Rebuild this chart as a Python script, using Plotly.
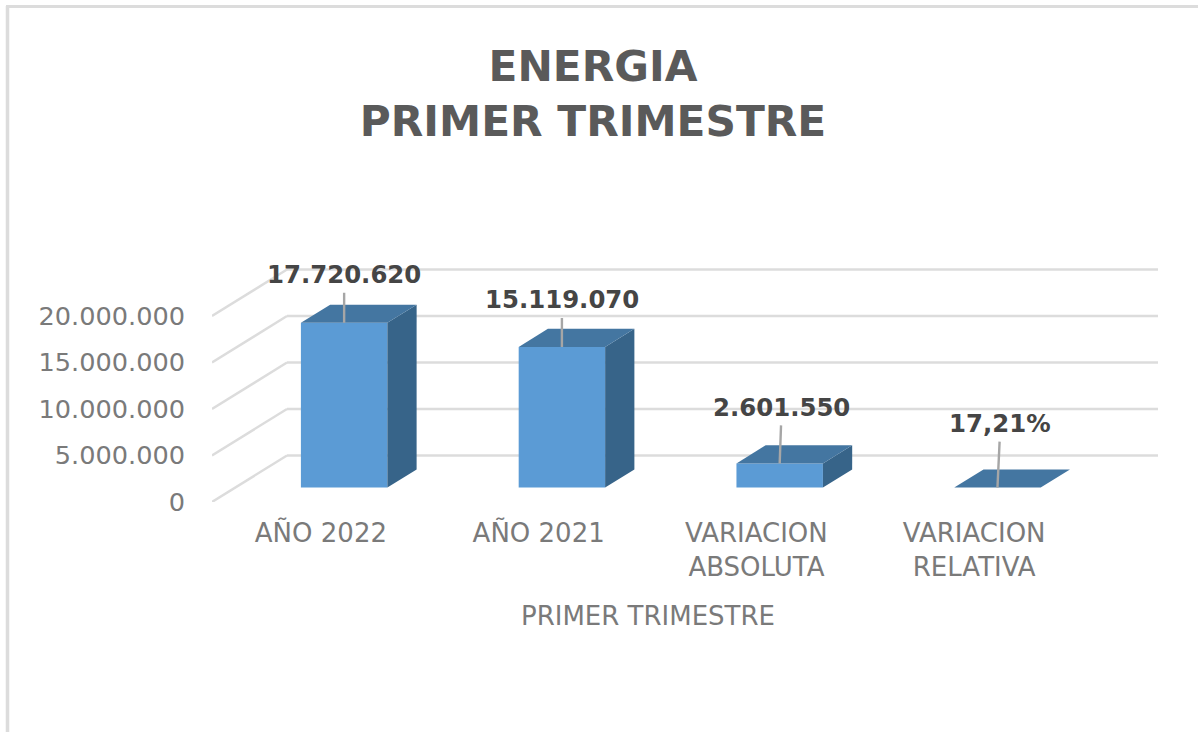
import plotly.graph_objects as go

# ---- data ----
categories = ["AÑO 2022", "AÑO 2021", "VARIACION<br>ABSOLUTA", "VARIACION<br>RELATIVA"]
values = [17720620, 15119070, 2601550, 0.1721]
value_labels = ["17.720.620", "15.119.070", "2.601.550", "17,21%"]
y_ticks = [0, 5000000, 10000000, 15000000, 20000000]
y_tick_labels = ["0", "5.000.000", "10.000.000", "15.000.000", "20.000.000"]
title_lines = ["ENERGIA", "PRIMER TRIMESTRE"]
x_title = "PRIMER TRIMESTRE"

# ---- oblique projection: depth 0 (front) .. 1 (back wall) ----
DEPTH_X = 0.3444     # category bands per unit depth
DEPTH_Y = 5000000    # value units per unit depth
BAR_D0, BAR_D1 = 0.31, 0.70
BAR_W = 0.397
X_MAX = 4.344
Y_MAX = 26130000
L, R, T, B = 212, 40, 259, 230
W, H = 1198, 732

# label offsets in pixels relative to bar's top centre (leader line)
label_offsets = [(0, -48), (0, -47), (2, -56), (3, -64)]

GRID = "#dcdcdc"
FRONT = "#5b9bd5"
SIDE = "#376489"
TOP = "#4476a1"
AXTXT = "#7a7a7a"
FONT = "DejaVu Sans"

centers = [i + 0.5 for i in range(len(categories))]


def proj(x, v, d):
    return x + d * DEPTH_X, v + d * DEPTH_Y


fig = go.Figure()

# front faces
fig.add_trace(go.Bar(
    x=[c + BAR_D0 * DEPTH_X for c in centers],
    y=values,
    base=[BAR_D0 * DEPTH_Y] * len(values),
    width=BAR_W,
    marker=dict(color=FRONT, line=dict(width=0)),
    hoverinfo="skip",
    showlegend=False,
))

# side and top faces
for c, v in zip(centers, values):
    xl, xr = c - BAR_W / 2, c + BAR_W / 2
    if v > 1:
        pts = [proj(xr, 0, BAR_D0), proj(xr, 0, BAR_D1), proj(xr, v, BAR_D1), proj(xr, v, BAR_D0)]
        fig.add_trace(go.Scatter(
            x=[p[0] for p in pts], y=[p[1] for p in pts], mode="lines", fill="toself",
            fillcolor=SIDE, line=dict(width=0), hoverinfo="skip", showlegend=False))
    pts = [proj(xl, v, BAR_D0), proj(xr, v, BAR_D0), proj(xr, v, BAR_D1), proj(xl, v, BAR_D1)]
    fig.add_trace(go.Scatter(
        x=[p[0] for p in pts], y=[p[1] for p in pts], mode="lines", fill="toself",
        fillcolor=TOP, line=dict(width=0), hoverinfo="skip", showlegend=False))

# grid: side wall diagonal and back wall horizontal
shapes = []
for t in y_ticks:
    x0, y0 = proj(0, t, 0)
    x1, y1 = proj(0, t, 1)
    shapes.append(dict(type="line", xref="x", yref="y", x0=x0, y0=y0, x1=x1, y1=y1,
                       layer="below", line=dict(color=GRID, width=2.4)))
    shapes.append(dict(type="line", xref="x", yref="y", x0=x1, y0=y1, x1=X_MAX, y1=y1,
                       layer="below", line=dict(color=GRID, width=2.4)))

# outer frame (top and left edges only)
plot_w, plot_h = W - L - R, H - T - B
px = lambda p: (p - L) / plot_w
py = lambda p: (H - B - p) / plot_h
shapes.append(dict(type="line", xref="paper", yref="paper", x0=px(7.5), x1=px(7.5), y0=py(6), y1=py(H),
                   line=dict(color=GRID, width=3.5)))
shapes.append(dict(type="line", xref="paper", yref="paper", x0=px(6), x1=px(W), y0=py(6.5), y1=py(6.5),
                   line=dict(color=GRID, width=3)))

# data labels with leader lines
annotations = []
for c, v, text, (ax, ay) in zip(centers, values, value_labels, label_offsets):
    xa, ya = proj(c, v, BAR_D0)
    annotations.append(dict(
        x=xa, y=ya, xref="x", yref="y", text=text, showarrow=True, ax=ax, ay=ay,
        arrowhead=0, arrowwidth=2.4, arrowcolor="#a6a6a6", borderpad=3,
        font=dict(family=FONT, size=24.4, color="#454545", weight="bold"),
    ))

# x axis title, centred on the front edge of the floor
annotations.append(dict(
    x=len(categories) / 2, y=py(616), xref="x", yref="paper", yanchor="middle",
    text=x_title, showarrow=False,
    font=dict(family=FONT, size=26, color=AXTXT),
))

fig.update_layout(
    width=W, height=H, autosize=False,
    margin=dict(l=L, r=R, t=T, b=B, pad=0),
    paper_bgcolor="white", plot_bgcolor="white",
    showlegend=False, hovermode=False,
    title=dict(
        text="<br>".join(title_lines), xref="container", yref="container",
        x=593 / W, xanchor="center", y=1 - 81 / H, yanchor="middle",
        font=dict(family=FONT, size=42.3, color="#5a5a5a", weight="bold"),
    ),
    xaxis=dict(
        range=[0, X_MAX], tickmode="array", tickvals=centers, ticktext=categories,
        showgrid=False, zeroline=False, showline=False, ticks="", ticklabelstandoff=13,
        tickfont=dict(family=FONT, size=26, color=AXTXT), tickangle=0,
    ),
    yaxis=dict(
        range=[0, Y_MAX], tickmode="array", tickvals=y_ticks, ticktext=y_tick_labels,
        showgrid=False, zeroline=False, showline=False, ticks="", ticklabelstandoff=26,
        tickfont=dict(family=FONT, size=25.6, color=AXTXT),
    ),
    shapes=shapes, annotations=annotations,
)

fig.write_html("out.html", config=dict(displayModeBar=False),
               post_script="document.body.style.margin='0';document.body.style.overflow='hidden';")
